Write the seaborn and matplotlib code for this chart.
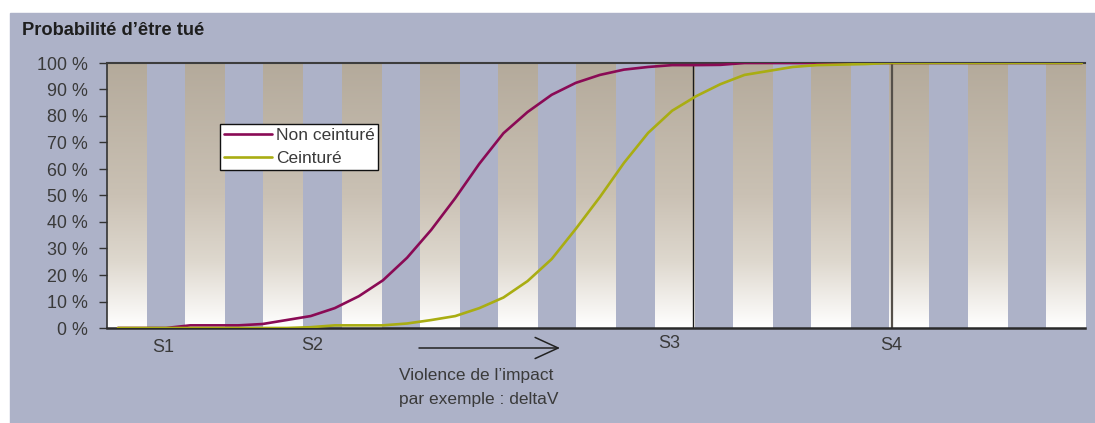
import numpy as np
import pandas as pd
import matplotlib
matplotlib.use("Agg")
import matplotlib.pyplot as plt
import seaborn as sns
from matplotlib.colors import LinearSegmentedColormap
from matplotlib.patches import Rectangle
from matplotlib.lines import Line2D

# --- data -------------------------------------------------------------
impact_steps = list(range(-2, 39))
non_ceinture = [0, 0, 0, 1, 1, 1, 1.5, 3, 4.5, 7.5, 12, 18, 26.5, 37, 49, 62,
                73.5, 81.5, 88, 92.5, 95.5, 97.5, 98.5, 99.2, 99.2, 99.3] + [100] * 15
ceinture = [0] * 8 + [0.3, 1, 1, 1, 1.7, 3, 4.5, 7.5, 11.5, 17.7, 26, 37.4, 49.4,
                      62.3, 73.6, 82, 87.5, 92, 95.5, 97, 98.5, 99.2, 99.4, 99.6] + [100] * 9
series_names = ["Non ceinturé", "Ceinturé"]
seuils = ["S1", "S2", "S3", "S4"]
seuil_lines = [21.87, 30.12]
y_ticks = list(range(0, 101, 10))
y_tick_labels = [f"{v} %" for v in y_ticks]

title = "Probabilité d’être tué"
axis_note = ["Violence de l’impact", "par exemple : deltaV"]

df = pd.DataFrame({
    "impact": impact_steps * 2,
    "proba": non_ceinture + ceinture,
    "serie": [series_names[0]] * len(impact_steps) + [series_names[1]] * len(impact_steps),
})

# --- style ------------------------------------------------------------
sns.set_theme(style="white")
plt.rcParams["font.family"] = ["Liberation Sans", "DejaVu Sans"]

W, H = 1095, 423
panel = "#adb2c8"
palette = {series_names[0]: "#8a0a55", series_names[1]: "#a9ad12"}
text_col = "#3a3a3a"


def fig_xy(x, y):
    return x / W, 1 - y / H


fig = plt.figure(figsize=(W / 100, H / 100), dpi=100)
fig.patch.set_facecolor("white")
fig.patches.append(Rectangle((10 / W, 0), 1 - 10 / W, 1 - 13 / H,
                             transform=fig.transFigure, color=panel, zorder=-10))

ax = fig.add_axes([107 / W, 1 - 328 / H, 978 / W, 265 / H])
ax.set_facecolor(panel)

# gradient columns behind the curves
grad_cmap = LinearSegmentedColormap.from_list(
    "sable", [(0.0, "#ffffff"), (0.25, "#ded8ce"), (0.5, "#cac1b4"), (1.0, "#b4aa9b")])
grad = np.linspace(0, 1, 256).reshape(-1, 1)
for k in range(13):
    ax.imshow(grad, cmap=grad_cmap, origin="lower", aspect="auto",
              extent=(0.08 * k, 0.08 * k + 0.04, 0, 1),
              transform=ax.transAxes, zorder=0, interpolation="bilinear")

for xv, col, lw in zip(seuil_lines, ["#1a1a1a", "#55504a"], [1.0, 1.6]):
    ax.axvline(xv, color=col, lw=lw, zorder=1)

sns.lineplot(data=df, x="impact", y="proba", hue="serie", hue_order=series_names,
             palette=palette, linewidth=1.9, legend=False, estimator=None,
             sort=False, ax=ax, zorder=4)

ax.set_xlim(-2.45, 38.13)
ax.set_ylim(0, 100)
ax.set_xticks([])
ax.set_yticks(y_ticks)
ax.set_yticklabels(y_tick_labels)
ax.tick_params(axis="y", left=True, length=6, width=1, color="#333333",
               pad=8, labelsize=12.9, labelcolor=text_col)
ax.set_xlabel("")
ax.set_ylabel("")

ax.spines["right"].set_visible(False)
ax.spines["top"].set_color("#3d3d3d")
ax.spines["top"].set_linewidth(1.5)
ax.spines["left"].set_color("#333333")
ax.spines["left"].set_linewidth(1.2)
ax.spines["bottom"].set_color("#2a2a2a")
ax.spines["bottom"].set_linewidth(1.8)

handles = [Line2D([0], [0], color=palette[n], lw=1.9) for n in series_names]
leg = ax.legend(handles, series_names, loc="upper left",
                bbox_to_anchor=(0.1155, 0.77), borderaxespad=0, frameon=True,
                fancybox=False, fontsize=12.5, handlelength=2.8, handletextpad=0.2,
                borderpad=0.22, labelspacing=0.45)
leg.get_frame().set_edgecolor("#111111")
leg.get_frame().set_linewidth(1.0)
leg.get_frame().set_facecolor("white")
leg.get_frame().set_alpha(1)
for t in leg.get_texts():
    t.set_color(text_col)

# threshold labels under the axis
for lab, (px, py) in zip(seuils, [(163, 348), (312, 345.5), (669, 343), (891, 345)]):
    fx, fy = fig_xy(px, py)
    fig.text(fx, fy, lab, ha="center", va="center", fontsize=13, color=text_col)

# arrow and its caption
ax.annotate("", xy=fig_xy(560, 348), xytext=fig_xy(419, 348),
            xycoords="figure fraction", textcoords="figure fraction",
            arrowprops=dict(arrowstyle="->,head_length=1.66,head_width=0.76",
                            mutation_scale=10, lw=1.1, color="#222222",
                            shrinkA=0, shrinkB=0))
for line, by in zip(axis_note, [380, 404]):
    fx, fy = fig_xy(399, by)
    fig.text(fx, fy, line, ha="left", va="baseline", fontsize=12.5, color=text_col)

fx, fy = fig_xy(22, 35)
fig.text(fx, fy, title, ha="left", va="baseline", fontsize=13.2,
         fontweight="bold", color="#1e1e1e")

fig.savefig("out.png", dpi=100, facecolor="white")
